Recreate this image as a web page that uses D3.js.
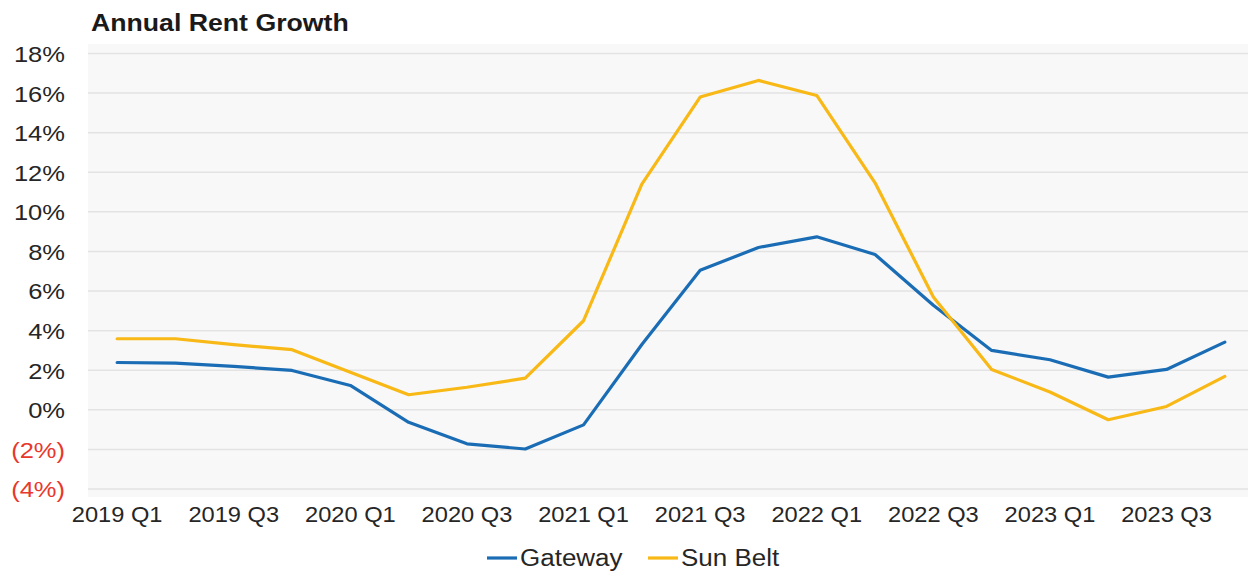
<!DOCTYPE html>
<html>
<head>
<meta charset="utf-8">
<script src="https://cdn.jsdelivr.net/npm/d3@7"></script>
<style>
  html, body { margin: 0; padding: 0; background: #ffffff; }
  svg { display: block; font-family: "Liberation Sans", Arial, sans-serif; }
</style>
</head>
<body>
<svg id="chart" width="1248" height="573"></svg>
<script>
// Quarterly annual rent growth (%), 2019 Q1 – 2023 Q4
const quarters = [
  "2019 Q1","2019 Q2","2019 Q3","2019 Q4",
  "2020 Q1","2020 Q2","2020 Q3","2020 Q4",
  "2021 Q1","2021 Q2","2021 Q3","2021 Q4",
  "2022 Q1","2022 Q2","2022 Q3","2022 Q4",
  "2023 Q1","2023 Q2","2023 Q3","2023 Q4"
];
const gateway = [2.39, 2.36, 2.19, 1.99, 1.23, -0.63, -1.72, -1.98, -0.76, 3.3,
                 7.05, 8.2, 8.74, 7.85, 5.28, 3.0, 2.53, 1.65, 2.04, 3.42];
const sunBelt = [3.59, 3.59, 3.29, 3.04, 1.9, 0.76, 1.14, 1.6, 4.5, 11.4,
                 15.8, 16.64, 15.88, 11.47, 5.7, 2.04, 0.9, -0.5, 0.17, 1.69];
const yTicks = [-4, -2, 0, 2, 4, 6, 8, 10, 12, 14, 16, 18];
const seriesNames = ["Gateway", "Sun Belt"];
const seriesColors = ["#1a6db5", "#f8b816"];

const svg = d3.select("#chart");
const plot = { left: 88, right: 1254, top: 44, bottom: 497 };

const x = d3.scaleBand().domain(quarters).range([plot.left, plot.right]).padding(0);
const xc = q => x(q) + x.bandwidth() / 2;
const y = d3.scaleLinear().domain([-4, 18]).range([489, 53.5]);

// plot background
svg.append("rect")
  .attr("x", plot.left).attr("y", plot.top)
  .attr("width", plot.right - plot.left).attr("height", plot.bottom - plot.top)
  .attr("fill", "#f8f8f8");

// horizontal gridlines
svg.append("g").selectAll("line").data(yTicks).join("line")
  .attr("x1", plot.left).attr("x2", plot.right)
  .attr("y1", d => y(d)).attr("y2", d => y(d))
  .attr("stroke", "#e3e3e3").attr("stroke-width", 1.5);

// y axis labels: negatives shown in red parentheses
const fmtY = d => d < 0 ? `(${Math.abs(d)}%)` : `${d}%`;
const yAxis = svg.append("g")
  .attr("transform", `translate(65,0)`)
  .call(d3.axisLeft(y).tickValues(yTicks).tickFormat(fmtY).tickSize(0).tickPadding(0));
yAxis.select(".domain").remove();
yAxis.selectAll("text")
  .attr("font-family", "Liberation Sans, Arial, sans-serif")
  .attr("font-size", 22)
  .attr("dy", "0.36em")
  .attr("transform", "scale(1.16,1)")
  .attr("fill", d => d < 0 ? "#e8382c" : "#262626");

// x axis labels every second quarter
const xAxis = svg.append("g")
  .attr("transform", `translate(0,506)`)
  .call(d3.axisBottom(x).tickValues(quarters.filter((q, i) => i % 2 === 0)).tickSize(0).tickPadding(0));
xAxis.select(".domain").remove();
xAxis.selectAll("text")
  .attr("font-family", "Liberation Sans, Arial, sans-serif")
  .attr("font-size", 21.5)
  .attr("dy", "0.76em")
  .attr("transform", "scale(1.1,1)")
  .attr("fill", "#262626");

// series lines
const line = d3.line().x((d, i) => xc(quarters[i])).y(d => y(d));
[gateway, sunBelt].forEach((vals, k) => {
  svg.append("path")
    .datum(vals)
    .attr("d", line)
    .attr("fill", "none")
    .attr("stroke", seriesColors[k])
    .attr("stroke-width", 3.2)
    .attr("stroke-linejoin", "round")
    .attr("stroke-linecap", "round");
});

// title
svg.append("text")
  .attr("transform", "translate(91,31) scale(1.16,1)")
  .attr("font-size", 23)
  .attr("font-weight", "bold")
  .attr("fill", "#1a1a1a")
  .text("Annual Rent Growth");

// legend
const legendX = [487, 648];
const legend = svg.append("g");
seriesNames.forEach((name, k) => {
  const g = legend.append("g").attr("transform", `translate(${legendX[k]},558)`);
  g.append("line").attr("x1", 0).attr("x2", 30).attr("y1", 0).attr("y2", 0)
    .attr("stroke", seriesColors[k]).attr("stroke-width", 3.2);
  g.append("text")
    .attr("transform", "translate(33,8) scale(1.13,1)")
    .attr("font-size", 23)
    .attr("fill", "#262626")
    .text(name);
});
</script>
</body>
</html>
